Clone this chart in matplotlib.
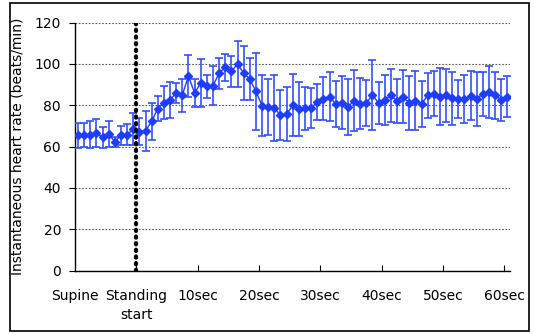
import matplotlib
matplotlib.use("Agg")
import matplotlib.pyplot as plt
from matplotlib.patches import Rectangle
import numpy as np

# mean instantaneous heart rate (beats/min), one value per beat/second category
hr_mean = [65.4, 65.6, 65.8, 66.6, 64.5, 66.1, 62.3, 65.4, 65.8, 68.3,
           67.2, 67.6, 72.2, 78.3, 81.3, 82.6, 85.9, 84.9, 94.1, 85.9,
           90.7, 89.1, 89.4, 95.5, 98.4, 96.3, 100.0, 95.5, 92.6, 86.7,
           79.8, 79.3, 78.5, 75.3, 75.6, 79.9, 78.2, 78.5, 78.6, 81.5,
           83.1, 84.2, 80.6, 81.3, 79.1, 82.2, 80.7, 81.0, 85.0, 81.0,
           82.6, 84.7, 82.2, 84.1, 81.0, 82.2, 80.6, 84.7, 85.5, 84.2,
           84.7, 83.3, 83.0, 83.0, 84.6, 83.0, 85.5, 86.4, 84.7, 82.6,
           84.0]
# standard deviation (error bars)
hr_sd = [6.0, 5.9, 6.6, 6.9, 5.0, 6.2, 2.3, 4.5, 5.3, 7.7,
         6.4, 9.6, 9.1, 6.0, 8.0, 8.7, 5.0, 8.0, 10.2, 6.9,
         11.5, 5.5, 9.5, 7.5, 6.5, 7.7, 11.0, 13.0, 10.2, 18.7,
         14.8, 13.5, 16.0, 12.0, 13.0, 15.0, 13.0, 10.5, 9.5, 8.9,
         10.3, 11.8, 11.2, 13.0, 13.6, 14.9, 12.4, 11.3, 17.0, 10.0,
         12.0, 12.8, 10.7, 12.9, 13.2, 14.3, 11.3, 10.9, 10.8, 13.9,
         12.8, 12.9, 9.4, 11.6, 12.0, 12.9, 10.7, 12.8, 11.5, 10.2,
         9.9]
tick_pos = [-0.5, 9.5, 19.5, 29.5, 39.5, 49.5, 59.5, 69.5]
tick_labels = ["Supine", "Standing\nstart", "10sec", "20sec", "30sec",
               "40sec", "50sec", "60sec"]
standing_at = 9.4

x = np.arange(len(hr_mean))
blue = "#1f3dff"

fig = plt.figure(figsize=(5.34, 3.34), dpi=100)
ax = fig.add_axes([0.1404, 0.19, 0.8155, 0.7426])

ax.errorbar(x, hr_mean, yerr=hr_sd, color=blue, ecolor="#3050ff",
            elinewidth=1.2, capsize=3, capthick=1.2, lw=1,
            marker="D", markersize=4, zorder=3)

ax.axvline(standing_at, color="black", lw=3, linestyle=(0, (0.3, 1.3)),
           dash_capstyle="round", zorder=4)

ax.set_xlim(-0.5, 70.5)
ax.set_ylim(0, 120)
ax.set_yticks(range(0, 121, 20))
ax.yaxis.grid(True, color="#555555", linestyle=(0, (1.5, 1.5)), lw=0.8)
ax.set_axisbelow(True)

ax.set_xticks(tick_pos)
ax.set_xticklabels(tick_labels, fontsize=10, linespacing=1.5)
ax.tick_params(axis="x", direction="in", length=4, pad=13, width=0.8)
ax.tick_params(axis="y", direction="out", length=4, pad=6, width=0.8,
               labelsize=10)
ax.xaxis.get_major_ticks()[0].tick1line.set_visible(False)

for s in ["top", "right"]:
    ax.spines[s].set_visible(False)
ax.spines["left"].set_linewidth(1)
ax.spines["bottom"].set_linewidth(1)

ax.set_ylabel("Instantaneous heart rate (beats/min)", fontsize=10)
ax.yaxis.set_label_coords(-0.115, 0.5)

fig.patches.append(Rectangle((0.0187, 0.009), 0.972, 0.982,
                             transform=fig.transFigure, fill=False,
                             edgecolor="black", lw=1.2))

plt.savefig("out.png", dpi=100)
plt.close()
